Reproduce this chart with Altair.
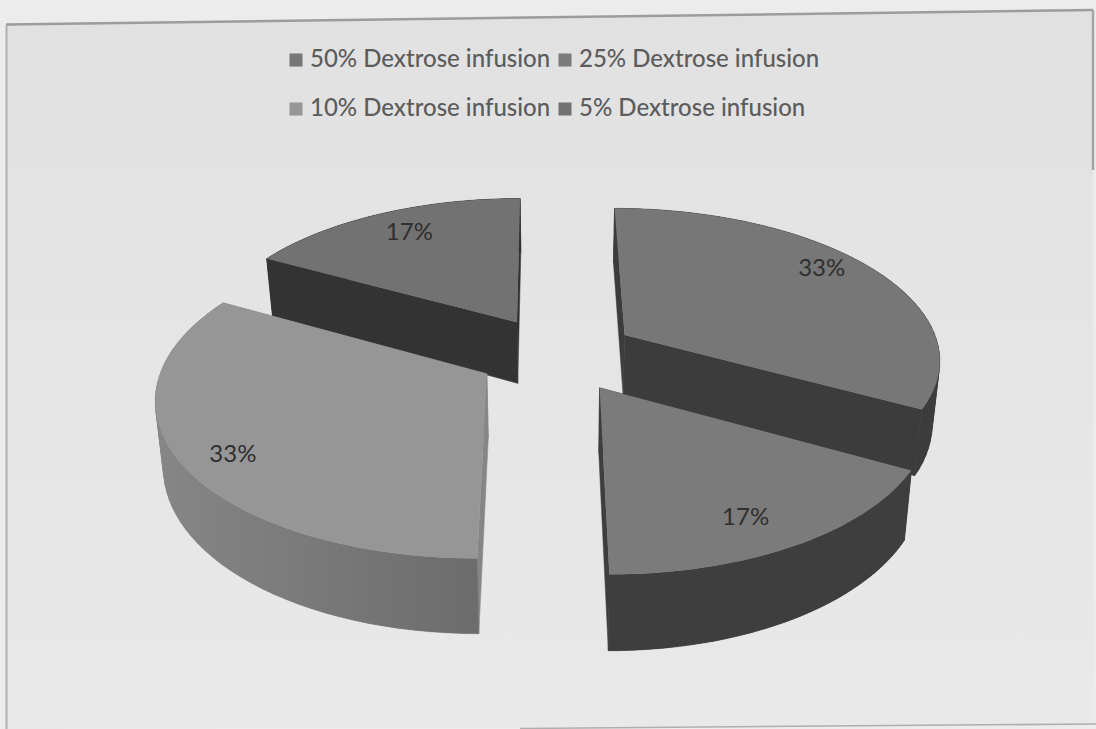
import math
import altair as alt

# Dose groups and their shares of the pie, clockwise from twelve o'clock
categories = ["50% Dextrose infusion", "25% Dextrose infusion",
              "10% Dextrose infusion", "5% Dextrose infusion"]
shares = [33, 17, 33, 17]
share_labels = ["33%", "17%", "33%", "17%"]
top_colors = ["#777777", "#7b7b7b", "#969696", "#727272"]
side_near = ["#3c3c3c", "#3e3e3e", "#6c6c6c", "#333333"]
side_far = ["#3c3c3c", "#3e3e3e", "#868686", "#333333"]
slice_radius = [1.0, 1.0, 1.015, 1.0]

# Where each percentage sits on its slice: fraction of the radius, bearing in degrees
label_radius = [0.85, 0.825, 0.87, 0.80]
label_bearing = [55, 152.5, 236, 330.6]

# Perspective camera and pie dimensions
HORIZON, FOCAL, FORESHORTEN = -700.0, 1054.0, 0.142
CENTRE_X, SPREAD, SHEAR = 557.0, 316.0, 2.0
EXPLODE, DROP, TAPER = 0.254, 63.0, 0.98
RIM_STEPS = 48


def project(ground_x, ground_t):
    """Ground-plane position (x right, t towards the viewer) to canvas."""
    w = 1 - FORESHORTEN * ground_t
    return CENTRE_X + (SPREAD * ground_x + SHEAR * ground_t) / w, HORIZON + FOCAL / w, w


def drop(point):
    """Lower edge of the pie's thickness below a point on the top face."""
    x, y, w = point
    return CENTRE_X + (x - CENTRE_X) * TAPER, y + DROP / w


def polygon(ring):
    return {"type": "Polygon", "coordinates": [[list(c) for c in ring]]}


def feature(geometry, **props):
    return {"type": "Feature", "geometry": geometry, "properties": props}


def face(p, q):
    """One upright quad between two points on the top outline."""
    return feature(polygon([p[:2], q[:2], drop(q), drop(p), p[:2]]))


back_sides, back_tops, front_sides, front_tops, labels = [], [], [], [], []
start = 0.0
for i, (cat, share) in enumerate(zip(categories, shares)):
    sweep = share * 3.6
    mid = math.radians(start + sweep / 2)
    ox, ot = EXPLODE * math.sin(mid), -EXPLODE * math.cos(mid)
    radius = slice_radius[i]
    apex = project(ox, ot)
    rim = []
    for s in range(RIM_STEPS + 1):
        a = math.radians(start + sweep * s / RIM_STEPS)
        rim.append(project(ox + radius * math.sin(a), ot - radius * math.cos(a)))

    # Solid body under the wall: the cut faces plus a quad per rim step, which also
    # fills the wedge where the wall ribbon folds over at its widest point
    body = [face(apex, rim[0]), face(apex, rim[-1])]
    body += [face(p, q) for p, q in zip(rim[:-1], rim[1:])]
    ribbon = [p[:2] for p in rim] + [drop(p) for p in reversed(rim)] + [rim[0][:2]]
    wall = [feature(polygon(ribbon))]
    top = feature(polygon([p[:2] for p in [apex] + rim + [apex]]), group=cat)

    is_back = math.cos(mid) > 0
    (back_sides if is_back else front_sides).append((body, wall, i))
    (back_tops if is_back else front_tops).append(top)

    b = math.radians(label_bearing[i])
    r = label_radius[i]
    lx, ly, _ = project(ox + r * math.sin(b), ot - r * math.cos(b))
    labels.append({"lon": lx, "lat": ly, "text": share_labels[i]})
    start += sweep

identity = dict(type="identity", scale=1, translate=[0, 0])

sheet = [feature(polygon([[6, 25], [1093, 10], [1093, 725], [6, 729], [6, 25]]))]
frame_lines = [
    feature({"type": "LineString", "coordinates": [[6, 24.5], [1093, 10]]}, ink="#9c9c9c", w=2.5),
    feature({"type": "LineString", "coordinates": [[1093, 10], [1093, 170]]}, ink="#a4a4a4", w=2.5),
    feature({"type": "LineString", "coordinates": [[6.5, 25], [6.5, 729]]}, ink="#b0b0b0", w=2.0),
    feature({"type": "LineString", "coordinates": [[520, 728.5], [1096, 724]]}, ink="#aeaeae", w=1.5),
]

paper = alt.Chart(alt.Data(values=sheet)).mark_geoshape(
    fill=alt.Gradient(gradient="linear", x1=0, y1=0, x2=0, y2=1,
                      stops=[alt.GradientStop(offset=0, color="#e1e1e1"),
                             alt.GradientStop(offset=1, color="#e9e9e9")]),
    strokeWidth=0,
).project(**identity)

frame = alt.Chart(alt.Data(values=frame_lines)).mark_geoshape(filled=False).encode(
    stroke=alt.Stroke("properties.ink:N", scale=None),
    strokeWidth=alt.StrokeWidth("properties.w:Q", scale=None),
).project(**identity)


def side_layers(groups):
    """Body in the far shade, curved wall shaded from far (left) to near (right)."""
    layers = []
    for body, wall, i in groups:
        layers.append(alt.Chart(alt.Data(values=body)).mark_geoshape(
            fill=side_far[i], stroke=side_far[i], strokeWidth=0.5,
        ).project(**identity))
        layers.append(alt.Chart(alt.Data(values=wall)).mark_geoshape(
            fill=alt.Gradient(gradient="linear", x1=0, y1=0, x2=1, y2=0,
                              stops=[alt.GradientStop(offset=0, color=side_far[i]),
                                     alt.GradientStop(offset=1, color=side_near[i])]),
            strokeWidth=0,
        ).project(**identity))
    return layers


legend = alt.Legend(
    title=None, orient="none", legendX=284, legendY=48, columns=2, direction="horizontal",
    symbolType="square", symbolSize=170, symbolStrokeWidth=0,
    labelFont="Lato", labelFontSize=24, labelColor="#5c5c5c", labelFontWeight=500,
    rowPadding=25, columnPadding=2, labelOffset=2, labelLimit=320,
)


def top_layer(rows):
    return alt.Chart(alt.Data(values=rows)).mark_geoshape(strokeWidth=0).encode(
        color=alt.Color("properties.group:N",
                        scale=alt.Scale(domain=categories, range=top_colors),
                        sort=categories, legend=legend),
    ).project(**identity)


text = alt.Chart(alt.Data(values=labels)).mark_text(
    font="Lato", fontSize=24, color="#2f2f2f"
).encode(
    longitude="lon:Q", latitude="lat:Q", text="text:N"
).project(**identity)

chart = alt.layer(
    paper, frame,
    *side_layers(back_sides), top_layer(back_tops),
    *side_layers(front_sides), top_layer(front_tops),
    text,
).properties(
    width=1096, height=729, padding=0, background="#ececec",
    autosize=alt.AutoSizeParams(type="none"),
).configure_view(stroke=None)

chart.save("out.html", embed_options={"renderer": "svg", "actions": False})
